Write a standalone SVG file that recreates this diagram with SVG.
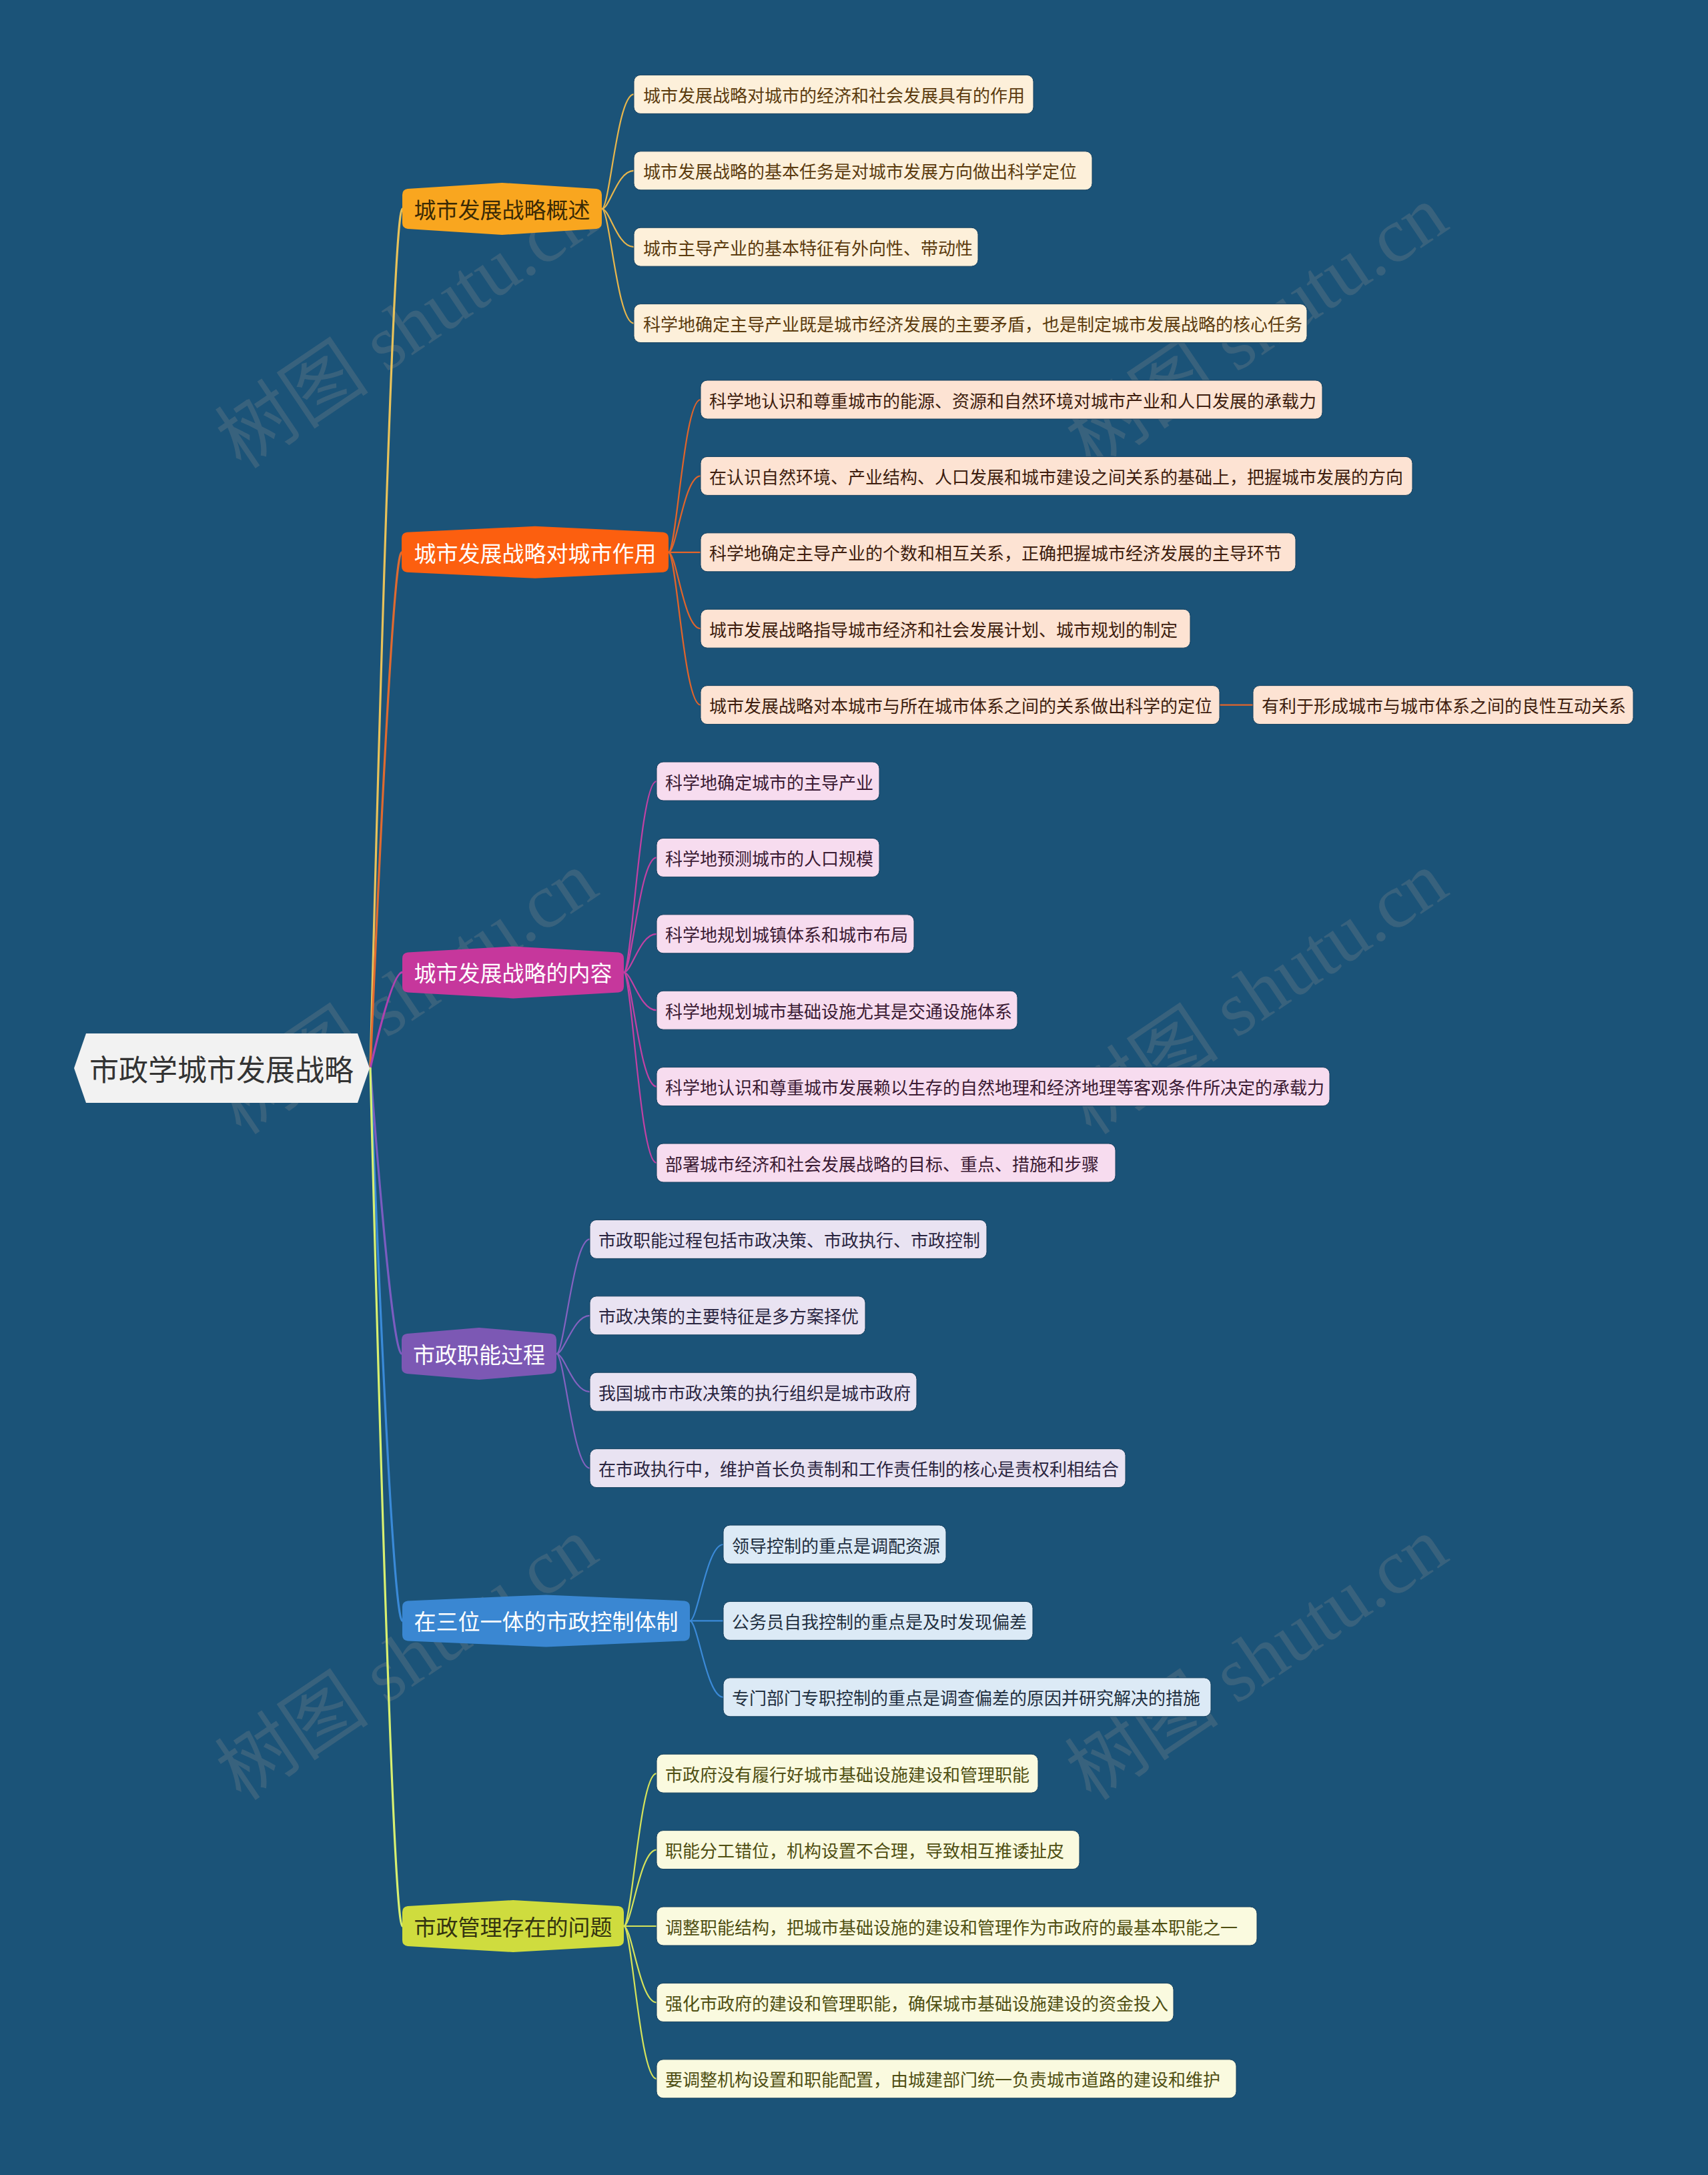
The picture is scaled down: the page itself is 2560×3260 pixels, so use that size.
<svg xmlns="http://www.w3.org/2000/svg" width="2560" height="3260" viewBox="0 0 2560 3260">
<style>
text{font-family:"Noto Sans CJK SC","Noto Sans",sans-serif;dominant-baseline:central}
.wm{font-family:"Liberation Serif","Noto Sans CJK SC",serif;font-size:116px;fill:#7d858c;fill-opacity:0.3;dominant-baseline:auto}
.lt{font-size:26px}
.bt{font-size:33px;text-anchor:middle}
.c{fill:none;stroke-width:2.2;stroke-linecap:round}
.rc{fill:none;stroke-width:3.2;stroke-linecap:round}
.l1{fill:#fdf0da}.t1{fill:#5b3b0e}.s1{stroke:#e8b64c}
.l2{fill:#fde3d3}.t2{fill:#3d1d0e}.s2{stroke:#e2642a}
.l3{fill:#f7dcef}.t3{fill:#3a1a33}.s3{stroke:#c241a4}
.l4{fill:#e9e3f2}.t4{fill:#2a2540}.s4{stroke:#8462c0}
.l5{fill:#dceaf6}.t5{fill:#1f2f40}.s5{stroke:#3b8ad8}
.l6{fill:#fafadf}.t6{fill:#4f4f12}.s6{stroke:#d6e35a}
.leaf{stroke:#16405e;stroke-width:1}
</style>
<rect width="2560" height="3260" fill="#1b5378"/>
<g id="watermarks">
<text class="wm" transform="translate(362,705) rotate(-34)">树图 shutu.cn</text>
<text class="wm" transform="translate(1636,705) rotate(-34)">树图 shutu.cn</text>
<text class="wm" transform="translate(362,1703) rotate(-34)">树图 shutu.cn</text>
<text class="wm" transform="translate(1636,1703) rotate(-34)">树图 shutu.cn</text>
<text class="wm" transform="translate(362,2701) rotate(-34)">树图 shutu.cn</text>
<text class="wm" transform="translate(1636,2701) rotate(-34)">树图 shutu.cn</text>
</g>
<g id="connectors">
<path class="rc" stroke="#e8c25a" d="M555 1601 Q588 313 603 313"/>
<path class="rc" stroke="#e06a30" d="M555 1601 Q588 827.8 602 827.8"/>
<path class="rc" stroke="#b042b0" d="M555 1601 Q588 1457.4 603 1457.4"/>
<path class="rc" stroke="#7b5cc0" d="M555 1601 Q588 2029 602 2029"/>
<path class="rc" stroke="#3a8ad8" d="M555 1601 Q588 2429.4 603 2429.4"/>
<path class="rc" stroke="#d8f070" d="M555 1601 Q588 2887 603 2887"/>
<path class="c s1" d="M902 313 C914 313 925 141.4 950 141.4"/>
<path class="c s1" d="M902 313 C914 313 925 255.8 950 255.8"/>
<path class="c s1" d="M902 313 C914 313 925 370.2 950 370.2"/>
<path class="c s1" d="M902 313 C914 313 925 484.6 950 484.6"/>
<path class="c s2" d="M1002 827.8 C1014 827.8 1025 599 1050 599"/>
<path class="c s2" d="M1002 827.8 C1014 827.8 1025 713.4 1050 713.4"/>
<path class="c s2" stroke-width="4" d="M1002 827.8 L1050 827.8"/>
<path class="c s2" d="M1002 827.8 C1014 827.8 1025 942.2 1050 942.2"/>
<path class="c s2" d="M1002 827.8 C1014 827.8 1025 1056.6 1050 1056.6"/>
<path class="c s2" stroke-width="4" stroke="#c8643a" d="M1828 1056.6 L1878 1056.6"/>
<path class="c s3" d="M935 1457.4 C947 1457.4 959 1171 984 1171"/>
<path class="c s3" d="M935 1457.4 C947 1457.4 959 1285.4 984 1285.4"/>
<path class="c s3" d="M935 1457.4 C947 1457.4 959 1399.8 984 1399.8"/>
<path class="c s3" d="M935 1457.4 C947 1457.4 959 1514.2 984 1514.2"/>
<path class="c s3" d="M935 1457.4 C947 1457.4 959 1628.6 984 1628.6"/>
<path class="c s3" d="M935 1457.4 C947 1457.4 959 1743 984 1743"/>
<path class="c s4" d="M834 2029 C846 2029 859 1857.4 884 1857.4"/>
<path class="c s4" d="M834 2029 C846 2029 859 1971.8 884 1971.8"/>
<path class="c s4" d="M834 2029 C846 2029 859 2086.2 884 2086.2"/>
<path class="c s4" d="M834 2029 C846 2029 859 2200.6 884 2200.6"/>
<path class="c s5" d="M1034 2429.4 C1046 2429.4 1059 2315 1084 2315"/>
<path class="c s5" stroke-width="3.5" d="M1034 2429.4 L1084 2429.4"/>
<path class="c s5" d="M1034 2429.4 C1046 2429.4 1059 2543.8 1084 2543.8"/>
<path class="c s6" d="M935 2887 C947 2887 959 2658.2 984 2658.2"/>
<path class="c s6" d="M935 2887 C947 2887 959 2772.6 984 2772.6"/>
<path class="c s6" stroke-width="3.5" d="M935 2887 L984 2887"/>
<path class="c s6" d="M935 2887 C947 2887 959 3001.4 984 3001.4"/>
<path class="c s6" d="M935 2887 C947 2887 959 3115.8 984 3115.8"/>
</g>
<g id="root">
<polygon points="111,1601 129,1549 536,1549 554,1601 536,1653 129,1653" fill="#f2f2f2"/>
<text x="332" y="1601" font-size="44" text-anchor="middle" fill="#333333">市政学城市发展战略</text>
</g>
<g id="b1">
<path fill="#f9a61f" d="M603 334 L603 292 Q603 284 611 283 L752.5 274 L894 283 Q902 284 902 292 L902 334 Q902 342 894 343 L752.5 352 L611 343 Q603 342 603 334 Z"/>
<text class="bt" x="752.5" y="313" fill="#3b2a05">城市发展战略概述</text>
</g>
<g id="b2">
<path fill="#fc5f0f" d="M602 848.8 L602 806.8 Q602 798.8 610 797.8 L802 788.8 L994 797.8 Q1002 798.8 1002 806.8 L1002 848.8 Q1002 856.8 994 857.8 L802 866.8 L610 857.8 Q602 856.8 602 848.8 Z"/>
<text class="bt" x="802" y="827.8" fill="#ffffff">城市发展战略对城市作用</text>
</g>
<g id="b3">
<path fill="#c6379c" d="M603 1478.4 L603 1436.4 Q603 1428.4 611 1427.4 L769 1418.4 L927 1427.4 Q935 1428.4 935 1436.4 L935 1478.4 Q935 1486.4 927 1487.4 L769 1496.4 L611 1487.4 Q603 1486.4 603 1478.4 Z"/>
<text class="bt" x="769" y="1457.4" fill="#ffffff">城市发展战略的内容</text>
</g>
<g id="b4">
<path fill="#7c58b4" d="M602 2050 L602 2008 Q602 2000 610 1999 L718 1990 L826 1999 Q834 2000 834 2008 L834 2050 Q834 2058 826 2059 L718 2068 L610 2059 Q602 2058 602 2050 Z"/>
<text class="bt" x="718" y="2029" fill="#ffffff">市政职能过程</text>
</g>
<g id="b5">
<path fill="#3a87d2" d="M603 2450.4 L603 2408.4 Q603 2400.4 611 2399.4 L818.5 2390.4 L1026 2399.4 Q1034 2400.4 1034 2408.4 L1034 2450.4 Q1034 2458.4 1026 2459.4 L818.5 2468.4 L611 2459.4 Q603 2458.4 603 2450.4 Z"/>
<text class="bt" x="818.5" y="2429.4" fill="#ffffff">在三位一体的市政控制体制</text>
</g>
<g id="b6">
<path fill="#cfdc3e" d="M603 2908 L603 2866 Q603 2858 611 2857 L769 2848 L927 2857 Q935 2858 935 2866 L935 2908 Q935 2916 927 2917 L769 2926 L611 2917 Q603 2916 603 2908 Z"/>
<text class="bt" x="769" y="2887" fill="#333310">市政管理存在的问题</text>
</g>
<g id="n0"><rect class="leaf l1" x="950" y="112.4" width="599" height="58" rx="10"/><text class="lt t1" x="964" y="141.4">城市发展战略对城市的经济和社会发展具有的作用</text></g>
<g id="n1"><rect class="leaf l1" x="950" y="226.8" width="687" height="58" rx="10"/><text class="lt t1" x="964" y="255.8">城市发展战略的基本任务是对城市发展方向做出科学定位</text></g>
<g id="n2"><rect class="leaf l1" x="950" y="341.2" width="516" height="58" rx="10"/><text class="lt t1" x="964" y="370.2">城市主导产业的基本特征有外向性、带动性</text></g>
<g id="n3"><rect class="leaf l1" x="950" y="455.6" width="1009" height="58" rx="10"/><text class="lt t1" x="964" y="484.6">科学地确定主导产业既是城市经济发展的主要矛盾，也是制定城市发展战略的核心任务</text></g>
<g id="n4"><rect class="leaf l2" x="1050" y="570" width="932" height="58" rx="10"/><text class="lt t2" x="1063" y="599">科学地认识和尊重城市的能源、资源和自然环境对城市产业和人口发展的承载力</text></g>
<g id="n5"><rect class="leaf l2" x="1050" y="684.4" width="1067" height="58" rx="10"/><text class="lt t2" x="1063" y="713.4">在认识自然环境、产业结构、人口发展和城市建设之间关系的基础上，把握城市发展的方向</text></g>
<g id="n6"><rect class="leaf l2" x="1050" y="798.8" width="892" height="58" rx="10"/><text class="lt t2" x="1063" y="827.8">科学地确定主导产业的个数和相互关系，正确把握城市经济发展的主导环节</text></g>
<g id="n7"><rect class="leaf l2" x="1050" y="913.2" width="734" height="58" rx="10"/><text class="lt t2" x="1063" y="942.2">城市发展战略指导城市经济和社会发展计划、城市规划的制定</text></g>
<g id="n8"><rect class="leaf l2" x="1050" y="1027.6" width="778" height="58" rx="10"/><text class="lt t2" x="1063" y="1056.6">城市发展战略对本城市与所在城市体系之间的关系做出科学的定位</text></g>
<g id="n8a"><rect class="leaf l2" x="1878" y="1027.6" width="570" height="58" rx="10"/><text class="lt t2" x="1891" y="1056.6">有利于形成城市与城市体系之间的良性互动关系</text></g>
<g id="n9"><rect class="leaf l3" x="984" y="1142" width="334" height="58" rx="10"/><text class="lt t3" x="997" y="1171">科学地确定城市的主导产业</text></g>
<g id="n10"><rect class="leaf l3" x="984" y="1256.4" width="334" height="58" rx="10"/><text class="lt t3" x="997" y="1285.4">科学地预测城市的人口规模</text></g>
<g id="n11"><rect class="leaf l3" x="984" y="1370.8" width="386" height="58" rx="10"/><text class="lt t3" x="997" y="1399.8">科学地规划城镇体系和城市布局</text></g>
<g id="n12"><rect class="leaf l3" x="984" y="1485.2" width="541" height="58" rx="10"/><text class="lt t3" x="997" y="1514.2">科学地规划城市基础设施尤其是交通设施体系</text></g>
<g id="n13"><rect class="leaf l3" x="984" y="1599.6" width="1009" height="58" rx="10"/><text class="lt t3" x="997" y="1628.6">科学地认识和尊重城市发展赖以生存的自然地理和经济地理等客观条件所决定的承载力</text></g>
<g id="n14"><rect class="leaf l3" x="984" y="1714" width="688" height="58" rx="10"/><text class="lt t3" x="997" y="1743">部署城市经济和社会发展战略的目标、重点、措施和步骤</text></g>
<g id="n15"><rect class="leaf l4" x="884" y="1828.4" width="595" height="58" rx="10"/><text class="lt t4" x="897" y="1857.4">市政职能过程包括市政决策、市政执行、市政控制</text></g>
<g id="n16"><rect class="leaf l4" x="884" y="1942.8" width="413" height="58" rx="10"/><text class="lt t4" x="897" y="1971.8">市政决策的主要特征是多方案择优</text></g>
<g id="n17"><rect class="leaf l4" x="884" y="2057.2" width="490" height="58" rx="10"/><text class="lt t4" x="897" y="2086.2">我国城市市政决策的执行组织是城市政府</text></g>
<g id="n18"><rect class="leaf l4" x="884" y="2171.6" width="803" height="58" rx="10"/><text class="lt t4" x="897" y="2200.6">在市政执行中，维护首长负责制和工作责任制的核心是责权利相结合</text></g>
<g id="n19"><rect class="leaf l5" x="1084" y="2286" width="334" height="58" rx="10"/><text class="lt t5" x="1097" y="2315">领导控制的重点是调配资源</text></g>
<g id="n20"><rect class="leaf l5" x="1084" y="2400.4" width="464" height="58" rx="10"/><text class="lt t5" x="1097" y="2429.4">公务员自我控制的重点是及时发现偏差</text></g>
<g id="n21"><rect class="leaf l5" x="1084" y="2514.8" width="731" height="58" rx="10"/><text class="lt t5" x="1097" y="2543.8">专门部门专职控制的重点是调查偏差的原因并研究解决的措施</text></g>
<g id="n22"><rect class="leaf l6" x="984" y="2629.2" width="572" height="58" rx="10"/><text class="lt t6" x="997" y="2658.2">市政府没有履行好城市基础设施建设和管理职能</text></g>
<g id="n23"><rect class="leaf l6" x="984" y="2743.6" width="634" height="58" rx="10"/><text class="lt t6" x="997" y="2772.6">职能分工错位，机构设置不合理，导致相互推诿扯皮</text></g>
<g id="n24"><rect class="leaf l6" x="984" y="2858" width="900" height="58" rx="10"/><text class="lt t6" x="997" y="2887">调整职能结构，把城市基础设施的建设和管理作为市政府的最基本职能之一</text></g>
<g id="n25"><rect class="leaf l6" x="984" y="2972.4" width="775" height="58" rx="10"/><text class="lt t6" x="997" y="3001.4">强化市政府的建设和管理职能，确保城市基础设施建设的资金投入</text></g>
<g id="n26"><rect class="leaf l6" x="984" y="3086.8" width="869" height="58" rx="10"/><text class="lt t6" x="997" y="3115.8">要调整机构设置和职能配置，由城建部门统一负责城市道路的建设和维护</text></g>
</svg>
